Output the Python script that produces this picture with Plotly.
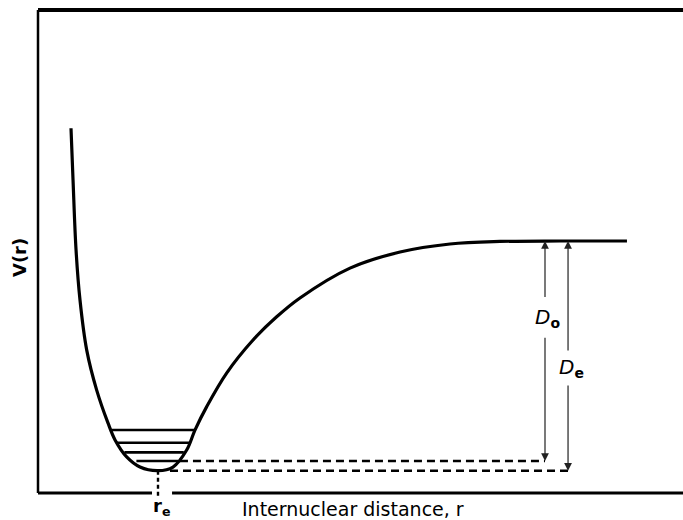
import plotly.graph_objects as go

# Potential energy curve of a diatomic molecule (r in units of r_e, V in units of D_e)
r_curve = [0.275, 0.292, 0.317, 0.350, 0.406, 0.489, 0.583, 0.642, 0.739, 0.850,
           1.000, 1.125, 1.239, 1.308, 1.406, 1.572, 1.792, 1.989, 2.183, 2.600,
           3.017, 3.433, 3.850, 4.350, 4.908]
V_curve = [1.491, 1.265, 0.961, 0.743, 0.525, 0.351, 0.208, 0.134, 0.060, 0.016,
           0.000, 0.016, 0.090, 0.177, 0.279, 0.425, 0.569, 0.670, 0.752, 0.882,
           0.952, 0.987, 0.998, 1.000, 1.000]

# Vibrational levels: energy and left/right turning points
level_E = [0.042, 0.080, 0.122, 0.177]
level_left = [0.820, 0.720, 0.650, 0.614]
level_right = [1.167, 1.215, 1.267, 1.308]

R_E = 1.0        # equilibrium distance
D_E = 1.0        # well depth
E_ZERO = 0.042   # zero-point energy (D_0 = D_e - E_0)

# Horizontal reference lines and arrow positions
r_dash_D0 = [1.183, 4.225]
r_dash_De = [1.100, 4.417]
r_arrow_D0 = 4.225
r_arrow_De = 4.417

# Axis ranges (arbitrary units)
X_RANGE = [-0.3167, 5.375]
Y_RANGE = [-0.2146, 2.0492]
FRAME_TOP = 2.0057
FRAME_BOTTOM = -0.0971

fig = go.Figure()

fig.add_trace(go.Scatter(
    x=r_curve, y=V_curve, mode="lines",
    line=dict(color="black", width=3.2, shape="spline", smoothing=1.0),
    hoverinfo="skip"))

for E, a, b in zip(level_E, level_left, level_right):
    fig.add_trace(go.Scatter(x=[a, b], y=[E, E], mode="lines",
                             line=dict(color="black", width=2.6), hoverinfo="skip"))

fig.add_trace(go.Scatter(x=r_dash_D0, y=[E_ZERO, E_ZERO], mode="lines",
                         line=dict(color="black", width=2.5, dash="8px,5px"),
                         hoverinfo="skip"))
fig.add_trace(go.Scatter(x=r_dash_De, y=[0.0, 0.0], mode="lines",
                         line=dict(color="black", width=2.5, dash="8px,5px"),
                         hoverinfo="skip"))
# marker of the equilibrium distance
fig.add_trace(go.Scatter(x=[R_E, R_E], y=[0.0, -0.114], mode="lines",
                         line=dict(color="black", width=2.4, dash="4px,3px"),
                         hoverinfo="skip"))

# Frame (open on the right, gap at r_e on the bottom edge)
frame = dict(type="line", xref="x", yref="y")
shapes = [
    dict(frame, x0=0, x1=0, y0=FRAME_BOTTOM, y1=FRAME_TOP, line=dict(color="black", width=2.5)),
    dict(frame, x0=0, x1=5.5, y0=FRAME_TOP, y1=FRAME_TOP, line=dict(color="black", width=4)),
    dict(frame, x0=0, x1=0.95, y0=FRAME_BOTTOM, y1=FRAME_BOTTOM, line=dict(color="black", width=3)),
    dict(frame, x0=1.117, x1=5.5, y0=FRAME_BOTTOM, y1=FRAME_BOTTOM, line=dict(color="black", width=3)),
]

annotations = []


def arrow(x, y_tip, y_tail):
    return dict(x=x, y=y_tip, ax=x, ay=y_tail, xref="x", yref="y", axref="x", ayref="y",
                showarrow=True, arrowhead=2, arrowsize=1.3, arrowwidth=1.2,
                arrowcolor="#222", standoff=0, text="")


D0_label_y = 0.665
De_label_y = 0.447
annotations += [
    arrow(r_arrow_D0, D_E, D0_label_y + 0.085),
    arrow(r_arrow_D0, E_ZERO, D0_label_y - 0.080),
    arrow(r_arrow_De, D_E, De_label_y + 0.070),
    arrow(r_arrow_De, 0.0, De_label_y - 0.070),
]

label_font = dict(family="DejaVu Sans", size=20, color="black")
annotations += [
    dict(x=r_arrow_D0 + 0.02, y=D0_label_y, xref="x", yref="y", showarrow=False,
         text="<i>D</i><sub><b>o</b></sub>", font=label_font),
    dict(x=r_arrow_De + 0.03, y=De_label_y, xref="x", yref="y", showarrow=False,
         text="<i>D</i><sub><b>e</b></sub>", font=label_font),
    dict(x=1.683, y=-0.1667, xref="x", yref="y", showarrow=False, xanchor="left",
         text="Internuclear distance, r",
         font=dict(family="DejaVu Sans", size=19, color="black")),
    dict(x=1.03, y=-0.158, xref="x", yref="y", showarrow=False,
         text="<b>r</b><sub><b>e</b></sub>",
         font=dict(family="DejaVu Sans", size=18, color="black")),
    dict(x=-0.158, y=0.926, xref="x", yref="y", showarrow=False, textangle=-90,
         text="<b>V(r)</b>",
         font=dict(family="DejaVu Sans", size=18, color="black")),
]

fig.update_layout(
    width=683, height=520,
    margin=dict(l=0, r=0, t=0, b=0),
    paper_bgcolor="white", plot_bgcolor="white",
    showlegend=False,
    xaxis=dict(range=X_RANGE, visible=False, fixedrange=True),
    yaxis=dict(range=Y_RANGE, visible=False, fixedrange=True),
    shapes=shapes, annotations=annotations,
)

fig.write_html("out.html")
